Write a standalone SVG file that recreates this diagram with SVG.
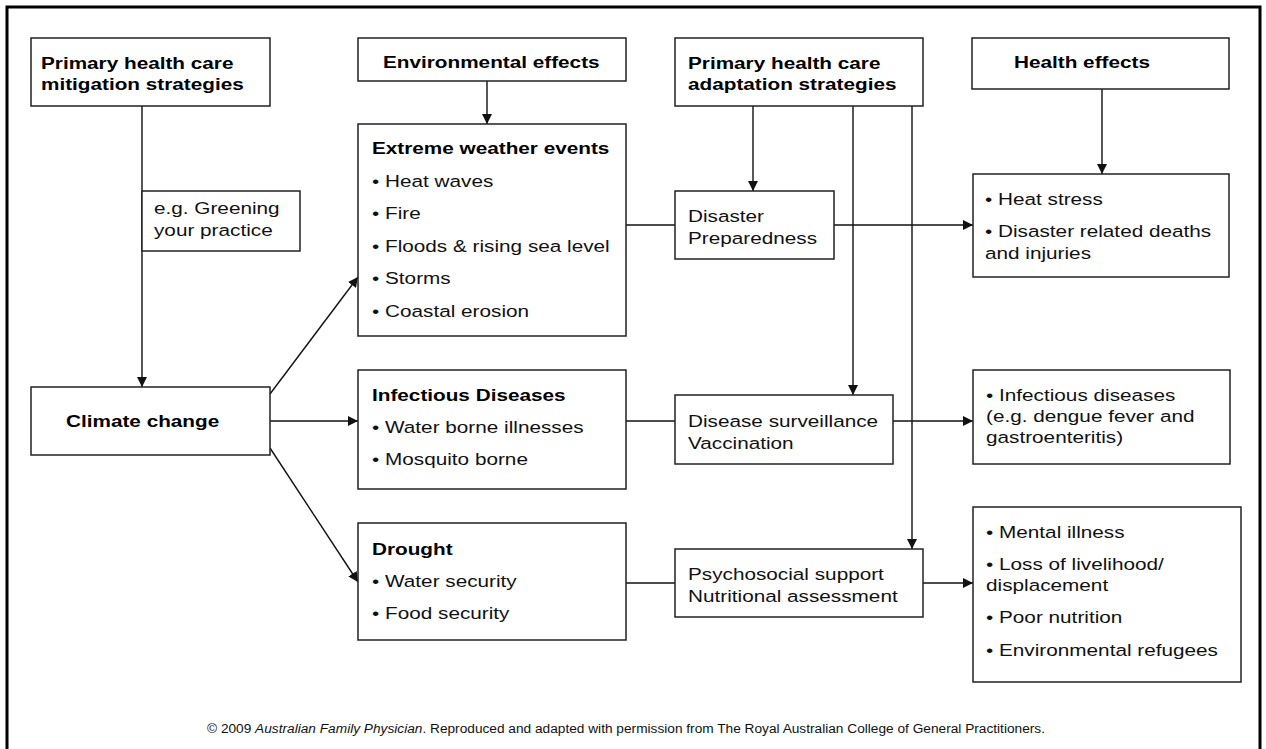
<svg xmlns="http://www.w3.org/2000/svg" width="1266" height="749" viewBox="0 0 1266 749">
<style>
.box{fill:#fff;stroke:#222;stroke-width:1.5}
.ln{fill:none;stroke:#111;stroke-width:1.4}
.b{font-family:"Liberation Sans",Arial,sans-serif;font-size:17px;font-weight:bold;fill:#000}
.r{font-family:"Liberation Sans",Arial,sans-serif;font-size:17px;fill:#111}
.cap{font-family:"Liberation Sans",Arial,sans-serif;font-size:12px;fill:#111}
</style>
<defs>
<marker id="ah" viewBox="0 0 10 10" refX="10" refY="5" markerWidth="10" markerHeight="10" markerUnits="userSpaceOnUse" orient="auto">
<path d="M0,0 L10,5 L0,10 z" fill="#111"/>
</marker>
</defs>
<rect x="0" y="0" width="1266" height="749" fill="#fff"/>
<rect x="7" y="7" width="1253" height="770" fill="none" stroke="#000" stroke-width="3"/>

<g id="connectors">
<line class="ln" x1="142" y1="106" x2="142" y2="387" marker-end="url(#ah)"/>
<line class="ln" x1="487" y1="81" x2="487" y2="124" marker-end="url(#ah)"/>
<line class="ln" x1="753" y1="106" x2="753" y2="191" marker-end="url(#ah)"/>
<line class="ln" x1="853" y1="106" x2="853" y2="395" marker-end="url(#ah)"/>
<line class="ln" x1="912" y1="106" x2="912" y2="549" marker-end="url(#ah)"/>
<line class="ln" x1="1102" y1="89" x2="1102" y2="174" marker-end="url(#ah)"/>
<line class="ln" x1="270" y1="394" x2="358" y2="277" marker-end="url(#ah)"/>
<line class="ln" x1="270" y1="421" x2="358" y2="421" marker-end="url(#ah)"/>
<line class="ln" x1="270" y1="448" x2="358" y2="582" marker-end="url(#ah)"/>
<line class="ln" x1="626" y1="225" x2="675" y2="225"/>
<line class="ln" x1="834" y1="225" x2="973" y2="225" marker-end="url(#ah)"/>
<line class="ln" x1="626" y1="421" x2="675" y2="421"/>
<line class="ln" x1="893" y1="421" x2="973" y2="421" marker-end="url(#ah)"/>
<line class="ln" x1="626" y1="583" x2="675" y2="583"/>
<line class="ln" x1="923" y1="583" x2="973" y2="583" marker-end="url(#ah)"/>
</g>

<g id="mitigation">
<rect class="box" x="31" y="38" width="239" height="68"/>
<g transform="translate(41,0) scale(1.22,1)"><text class="b" x="0" y="69">Primary health care</text><text class="b" x="0" y="90">mitigation strategies</text></g>
</g>
<g id="greening">
<rect class="box" x="142" y="191" width="158" height="60"/>
<g transform="translate(154,0) scale(1.22,1)"><text class="r" x="0" y="214">e.g. Greening</text><text class="r" x="0" y="236">your practice</text></g>
</g>
<g id="climate">
<rect class="box" x="31" y="387" width="239" height="68"/>
<g transform="translate(66,0) scale(1.22,1)"><text class="b" x="0" y="427">Climate change</text></g>
</g>
<g id="env">
<rect class="box" x="358" y="38" width="268" height="43"/>
<g transform="translate(383,0) scale(1.22,1)"><text class="b" x="0" y="68">Environmental effects</text></g>
</g>
<g id="extreme">
<rect class="box" x="358" y="124" width="268" height="212"/>
<g transform="translate(372,0) scale(1.22,1)">
<text class="b" x="0" y="154">Extreme weather events</text>
<text class="r" x="0" y="187">• Heat waves</text>
<text class="r" x="0" y="219">• Fire</text>
<text class="r" x="0" y="252">• Floods &amp; rising sea level</text>
<text class="r" x="0" y="284">• Storms</text>
<text class="r" x="0" y="317">• Coastal erosion</text>
</g>
</g>
<g id="infectious">
<rect class="box" x="358" y="370" width="268" height="119"/>
<g transform="translate(372,0) scale(1.22,1)">
<text class="b" x="0" y="401">Infectious Diseases</text>
<text class="r" x="0" y="433">• Water borne illnesses</text>
<text class="r" x="0" y="465">• Mosquito borne</text>
</g>
</g>
<g id="drought">
<rect class="box" x="358" y="523" width="268" height="117"/>
<g transform="translate(372,0) scale(1.22,1)">
<text class="b" x="0" y="555">Drought</text>
<text class="r" x="0" y="587">• Water security</text>
<text class="r" x="0" y="619">• Food security</text>
</g>
</g>
<g id="adaptation">
<rect class="box" x="675" y="38" width="248" height="68"/>
<g transform="translate(688,0) scale(1.22,1)"><text class="b" x="0" y="69">Primary health care</text><text class="b" x="0" y="90">adaptation strategies</text></g>
</g>
<g id="disaster">
<rect class="box" x="675" y="191" width="159" height="68"/>
<g transform="translate(688,0) scale(1.22,1)"><text class="r" x="0" y="222">Disaster</text><text class="r" x="0" y="244">Preparedness</text></g>
</g>
<g id="surveillance">
<rect class="box" x="675" y="395" width="218" height="69"/>
<g transform="translate(688,0) scale(1.22,1)"><text class="r" x="0" y="427">Disease surveillance</text><text class="r" x="0" y="449">Vaccination</text></g>
</g>
<g id="psychosocial">
<rect class="box" x="675" y="549" width="248" height="68"/>
<g transform="translate(688,0) scale(1.22,1)"><text class="r" x="0" y="580">Psychosocial support</text><text class="r" x="0" y="602">Nutritional assessment</text></g>
</g>
<g id="healtheffects">
<rect class="box" x="972" y="38" width="257" height="51"/>
<g transform="translate(1014,0) scale(1.22,1)"><text class="b" x="0" y="68">Health effects</text></g>
</g>
<g id="health1">
<rect class="box" x="973" y="174" width="256" height="103"/>
<g transform="translate(985,0) scale(1.22,1)">
<text class="r" x="0" y="205">• Heat stress</text>
<text class="r" x="0" y="237">• Disaster related deaths</text>
<text class="r" x="0" y="259">and injuries</text>
</g>
</g>
<g id="health2">
<rect class="box" x="973" y="370" width="257" height="94"/>
<g transform="translate(986,0) scale(1.22,1)">
<text class="r" x="0" y="401">• Infectious diseases</text>
<text class="r" x="0" y="422">(e.g. dengue fever and</text>
<text class="r" x="0" y="443">gastroenteritis)</text>
</g>
</g>
<g id="health3">
<rect class="box" x="973" y="507" width="268" height="175"/>
<g transform="translate(986,0) scale(1.22,1)">
<text class="r" x="0" y="538">• Mental illness</text>
<text class="r" x="0" y="570">• Loss of livelihood/</text>
<text class="r" x="0" y="591">displacement</text>
<text class="r" x="0" y="623">• Poor nutrition</text>
<text class="r" x="0" y="656">• Environmental refugees</text>
</g>
</g>
<text class="cap" x="207" y="733" textLength="838" lengthAdjust="spacingAndGlyphs">© 2009 <tspan font-style="italic">Australian Family Physician</tspan>. Reproduced and adapted with permission from The Royal Australian College of General Practitioners.</text>
</svg>
